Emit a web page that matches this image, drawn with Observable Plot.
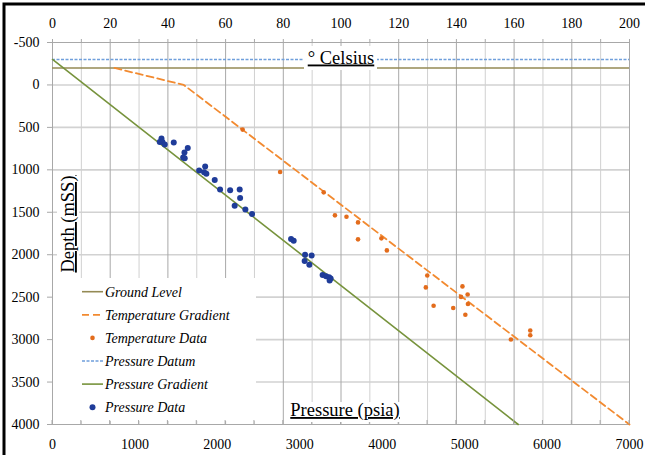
<!DOCTYPE html>
<html><head><meta charset="utf-8">
<script src="https://cdn.jsdelivr.net/npm/d3@7"></script>
<script src="https://cdn.jsdelivr.net/npm/@observablehq/plot@0.6"></script>
<style>
body{margin:0;background:#fff}
#chart{position:relative;width:645px;height:455px;overflow:hidden}
</style>
</head><body><div id="chart"></div>
<script>
// ---- data ----
const pressureTicks = [0, 1000, 2000, 3000, 4000, 5000, 6000, 7000];
const depthTicks = [-500, 0, 500, 1000, 1500, 2000, 2500, 3000, 3500, 4000];
const tempTicks = [0, 20, 40, 60, 80, 100, 120, 140, 160, 180, 200];
const tempMinorTicks = [0,10,20,30,40,50,60,70,80,90,100,110,120,130,140,150,160,170,180,190,200];
const groundLevel = -200;      // mSS
const pressureDatum = -300;    // mSS
const pressureGradient = [{p: 0, d: -300}, {p: 5650, d: 4000}];
const tempGradient = [{t: 21.5, d: -200}, {t: 45.5, d: 0}, {t: 200, d: 4000}];
// temperature data: [deg C, depth mSS]
const tempData = [
  [65.9, 526], [78.9, 1026], [94.0, 1265], [97.9, 1536], [101.9, 1552], [105.9, 1619],
  [105.9, 1819], [114.0, 1807], [115.9, 1949], [129.9, 2244], [129.4, 2385], [132.1, 2601],
  [138.9, 2627], [142.1, 2373], [141.6, 2497], [143.9, 2468], [144.0, 2580], [143.1, 2707],
  [158.9, 2998], [165.6, 2892], [165.6, 2948]
];
// pressure data: [psia, depth mSS]
const pressureData = [
  [1322, 632], [1301, 672], [1334, 672], [1362, 703], [1471, 679], [1641, 743],
  [1601, 797], [1585, 856], [1604, 864], [1852, 962], [1779, 1009], [1839, 1029],
  [1867, 1045], [1968, 1120], [2033, 1233], [2155, 1241], [2271, 1233], [2276, 1332],
  [2210, 1422], [2340, 1466], [2421, 1521], [2894, 1816], [2926, 1835], [3064, 2000],
  [3144, 2008], [3059, 2075], [3116, 2117], [3277, 2240], [3319, 2255], [3355, 2264],
  [3374, 2279], [3362, 2303]
];
const legendLabels = ["Ground Level", "Temperature Gradient", "Temperature Data", "Pressure Datum", "Pressure Gradient", "Pressure Data"];
const xTitle = "Pressure (psia)";
const yTitle = "Depth (mSS)";
const x2Title = "° Celsius";

// ---- styles ----
const C = {
  ground: "#948A54", tempLine: "#F28A30", tempDot: "#E36C1C",
  datum: "#6F9FDC", pgrad: "#77933C", pdot: "#1F3C99"
};
const T2P = 7000 / 200; // temperature axis shares the pressure axis span

const chart = Plot.plot({
  width: 645, height: 455,
  marginLeft: 52, marginRight: 16, marginTop: 42, marginBottom: 31,
  x: {domain: [0, 7000], label: null},
  y: {domain: [-500, 4000], reverse: true, label: null},
  style: {fontFamily: "'Liberation Serif', 'Times New Roman', serif", fontSize: "14px", color: "black", background: "white", overflow: "visible"},
  marks: [
    Plot.ruleY(depthTicks.filter(d => d > -500 && d < 4000), {stroke: "#d2d2d2", strokeWidth: 1.6}),
    Plot.ruleX(tempMinorTicks.filter(t => t % 20 !== 0).map(t => t * T2P), {stroke: "#d0d0d0", strokeWidth: 1}),
    Plot.ruleX(tempTicks.filter(t => t > 0 && t < 200).map(t => t * T2P), {stroke: "#a8a8a8", strokeWidth: 1}),
    Plot.frame({stroke: "#a8a8a8"}),
    Plot.axisX(tempMinorTicks.map(t => t * T2P), {anchor: "top", label: null, tickSize: 4, tickPadding: 11, stroke: "#a8a8a8",
      fontSize: 14, tickFormat: v => (Math.round(v / T2P) % 20 === 0 ? String(Math.round(v / T2P)) : "")}),
    Plot.axisX(pressureTicks, {anchor: "bottom", label: null, tickSize: 0, tickPadding: 15, fontSize: 14, tickFormat: v => String(v)}),
    Plot.axisY(depthTicks, {anchor: "left", label: null, tickSize: 5, tickPadding: 8, stroke: "#a8a8a8", fontSize: 14, tickFormat: v => String(v)}),
    Plot.ruleY([pressureDatum], {stroke: C.datum, strokeWidth: 1.5, strokeDasharray: "3,1.5"}),
    Plot.ruleY([groundLevel], {stroke: C.ground, strokeWidth: 1.6}),
    Plot.line(pressureGradient, {x: "p", y: "d", stroke: C.pgrad, strokeWidth: 1.6}),
    Plot.line(tempGradient, {x: d => d.t * T2P, y: "d", stroke: C.tempLine, strokeWidth: 1.8, strokeDasharray: "7,4"}),
    Plot.dot(tempData, {x: d => d[0] * T2P, y: d => d[1], r: 2.3, fill: C.tempDot, stroke: "none"}),
    Plot.dot(pressureData, {x: d => d[0], y: d => d[1], r: 3, fill: C.pdot, stroke: "none"})
  ]
});

document.getElementById("chart").appendChild(chart);
const svg = d3.select(chart);
const xs = chart.scale("x");
const font = "'Liberation Serif', 'Times New Roman', serif";

// outer border
svg.append("rect").attr("x", 4).attr("y", 4).attr("width", 700).attr("height", 500)
  .attr("fill", "none").attr("stroke", "black").attr("stroke-width", 3);

// legend
const lg = svg.append("g").attr("text-anchor", "start");
lg.append("rect").attr("x", 53).attr("y", 278).attr("width", 203).attr("height", 143).attr("fill", "white");
const ly0 = 291.7, ldy = 23.1;
legendLabels.forEach((lab, i) => {
  const y = ly0 + i * ldy;
  const g = lg.append("g");
  if (i === 0) g.append("line").attr("x1", 82).attr("x2", 103).attr("y1", y).attr("y2", y).attr("stroke", C.ground).attr("stroke-width", 1.6);
  if (i === 1) g.append("line").attr("x1", 82).attr("x2", 103).attr("y1", y).attr("y2", y).attr("stroke", C.tempLine).attr("stroke-width", 1.8).attr("stroke-dasharray", "7,4");
  if (i === 2) g.append("circle").attr("cx", 92.5).attr("cy", y).attr("r", 2.3).attr("fill", C.tempDot);
  if (i === 3) g.append("line").attr("x1", 82).attr("x2", 103).attr("y1", y).attr("y2", y).attr("stroke", C.datum).attr("stroke-width", 1.5).attr("stroke-dasharray", "3,1.5");
  if (i === 4) g.append("line").attr("x1", 82).attr("x2", 103).attr("y1", y).attr("y2", y).attr("stroke", C.pgrad).attr("stroke-width", 1.6);
  if (i === 5) g.append("circle").attr("cx", 92.5).attr("cy", y).attr("r", 3).attr("fill", C.pdot);
  g.append("text").attr("x", 105).attr("y", y).attr("dy", "0.35em").attr("font-style", "italic")
    .attr("text-anchor", "start").attr("font-family", font).attr("font-size", 14).attr("fill", "black").text(lab);
});

// bottom minor ticks (temperature spacing), drawn over legend box
tempMinorTicks.forEach(t => {
  const x = xs.apply(t * T2P);
  svg.append("line").attr("x1", x).attr("x2", x).attr("y1", 420).attr("y2", 424).attr("stroke", "#a8a8a8");
});

// titles with white boxes
function titleBox(x, y, w, h) {
  svg.append("rect").attr("x", x).attr("y", y).attr("width", w).attr("height", h).attr("fill", "white");
}
titleBox(304, 46, 73, 24);
svg.append("text").attr("x", 341).attr("y", 63.5).attr("text-anchor", "middle").attr("font-family", font)
  .attr("font-size", 18.5).attr("text-decoration", "underline").attr("fill", "black").text(x2Title);
titleBox(290, 402, 111, 20);
svg.append("text").attr("x", 345).attr("y", 416).attr("text-anchor", "middle").attr("font-family", font)
  .attr("font-size", 18.5).attr("text-decoration", "underline").attr("fill", "black").text(xTitle);
titleBox(57, 172, 22, 104);
svg.append("text").attr("transform", "translate(74,224) rotate(-90)").attr("text-anchor", "middle").attr("font-family", font)
  .attr("font-size", 18.5).attr("text-decoration", "underline").attr("fill", "black").text(yTitle);
</script>
</body></html>
